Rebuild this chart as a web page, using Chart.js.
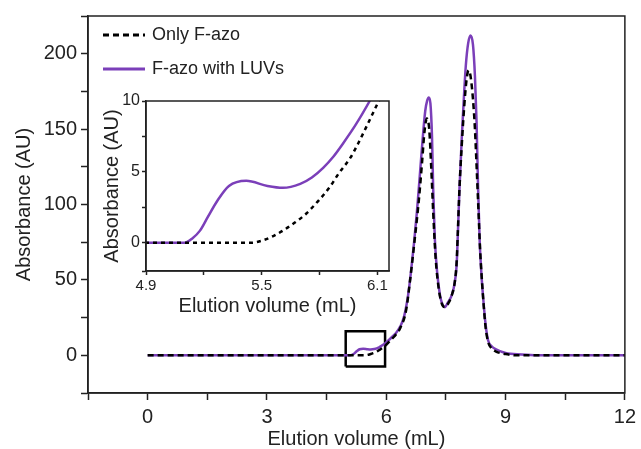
<!DOCTYPE html>
<html>
<head>
<meta charset="utf-8">
<script src="https://cdn.jsdelivr.net/npm/chart.js@4/dist/chart.umd.min.js"></script>
<style>
  body { margin: 0; background: #fff; }
  #wrap { position: relative; width: 641px; height: 449px; }
  #MainCanvas { position: absolute; left: 0; top: 0; }
  #InsetCanvas { position: absolute; left: 100px; top: 80px; }
</style>
</head>
<body>
<div id="wrap">
  <canvas id="MainCanvas" width="641" height="449"></canvas>
  <canvas id="InsetCanvas" width="300" height="240"></canvas>
</div>
<script>
// data
var blackX = [0, 5.45, 5.49, 5.55, 5.61, 5.67, 5.73, 5.79, 5.85, 5.9, 5.96, 6.0, 6.04, 6.1, 6.2, 6.35, 6.5, 6.6, 6.72, 6.82, 6.9, 6.96, 7.02, 7.08, 7.13, 7.18, 7.24, 7.32, 7.4, 7.47, 7.55, 7.65, 7.72, 7.77, 7.8, 7.84, 7.9, 7.96, 8.02, 8.07, 8.12, 8.18, 8.23, 8.28, 8.32, 8.36, 8.4, 8.45, 8.5, 8.56, 8.65, 8.76, 9.0, 9.3, 12];
var blackY = [0, 0, 0.1, 0.4, 0.85, 1.4, 2.04, 2.9, 3.87, 4.9, 6, 7, 8.1, 9.8, 12.5, 18, 30, 50, 78, 103, 128, 148, 157, 150, 125, 95, 65, 44, 34, 32, 34, 40, 48, 62, 82, 110, 140, 165, 183, 189, 185, 170, 150, 120, 95, 70, 52, 33, 18, 9, 4.5, 2.5, 0.8, 0, 0];

var purpleX = [0, 5.1, 5.14, 5.18, 5.22, 5.27, 5.33, 5.42, 5.53, 5.61, 5.7, 5.76, 5.82, 5.87, 5.92, 5.99, 6.06, 6.15, 6.25, 6.35, 6.45, 6.55, 6.62, 6.7, 6.77, 6.84, 6.92, 6.98, 7.03, 7.07, 7.11, 7.15, 7.18, 7.22, 7.28, 7.35, 7.41, 7.47, 7.55, 7.65, 7.72, 7.77, 7.8, 7.84, 7.9, 7.95, 8.0, 8.06, 8.12, 8.18, 8.23, 8.27, 8.31, 8.35, 8.39, 8.44, 8.5, 8.56, 8.65, 8.76, 9.0, 9.4, 9.8, 12];
var purpleY = [0, 0, 0.3, 0.85, 1.8, 2.96, 4.0, 4.37, 4.0, 3.87, 4.15, 4.6, 5.3, 6.05, 6.97, 8.38, 10, 12.3, 15, 19, 26, 40, 55, 75, 95, 118, 145, 162, 169, 171, 167, 145, 110, 78, 55, 40, 34, 32, 35, 40, 48, 60, 80, 110, 145, 170, 192, 207, 212, 206, 185, 155, 110, 75, 55, 37, 20, 10, 6, 4, 1.5, 0.5, 0, 0];

// zoom box round the region shown in the inset
var boxX = [4.98, 5.97, 5.97, 4.98, 4.98];
var boxY = [-7.5, -7.5, 16, 16, -7.5];

var mainXTicks = [-1.5, 0, 1.5, 3, 4.5, 6, 7.5, 9, 10.5, 12];
var mainXLabels = [0, 3, 6, 9, 12];
var mainYTicks = [-25, 0, 25, 50, 75, 100, 125, 150, 175, 200, 225];
var mainYLabels = [0, 50, 100, 150, 200];

var insetXTicks = [4.9, 5.2, 5.5, 5.8, 6.1];
var insetXLabels = [4.9, 5.5, 6.1];
var insetYTicks = [-2, 0, 2.5, 5, 7.5, 10];
var insetYLabels = [0, 5, 10];

var seriesNames = ['Only F-azo', 'F-azo with LUVs'];

var PURPLE = '#7b3fb9';
var FONT = "'Liberation Sans', Arial, sans-serif";

function pts(xs, ys) {
    return xs.map(function (x, i) { return { x: x, y: ys[i] }; });
}

function fixTicks(list) {
    return function (scale) {
        scale.ticks = list.map(function (v) { return { value: v }; });
    };
}

var framePlugin = {
    id: 'frame',
    afterDraw: function (chart, args, opts) {
        var a = chart.chartArea, ctx = chart.ctx;
        ctx.save();
        ctx.strokeStyle = '#222';
        ctx.lineWidth = opts.width || 1.5;
        ctx.strokeRect(a.left, a.top, a.right - a.left, a.bottom - a.top);
        ctx.restore();
    }
};

var legendPlugin = {
    id: 'sideLegend',
    afterDraw: function (chart) {
        var ctx = chart.ctx;
        var rows = [35, 69];
        ctx.save();
        ctx.font = '18px ' + FONT;
        ctx.textBaseline = 'middle';
        for (var i = 0; i < 2; i++) {
            var ds = chart.data.datasets[i];
            ctx.strokeStyle = ds.borderColor;
            ctx.lineWidth = 3;
            ctx.setLineDash(ds.borderDash || []);
            ctx.beginPath();
            ctx.moveTo(103, rows[i]);
            ctx.lineTo(145, rows[i]);
            ctx.stroke();
            ctx.setLineDash([]);
            ctx.fillStyle = '#222';
            ctx.fillText(ds.label, 152, rows[i]);
        }
        ctx.restore();
    }
};

function axis(opts) {
    return {
        type: 'linear',
        min: opts.min,
        max: opts.max,
        afterBuildTicks: fixTicks(opts.ticks),
        afterFit: opts.fit,
        border: { color: '#222', width: 1.5 },
        grid: { drawOnChartArea: false, drawTicks: true, tickLength: opts.tickLength, tickColor: '#222', tickWidth: 1.5 },
        ticks: {
            color: '#222',
            padding: opts.padding,
            autoSkip: false,
            maxRotation: 0,
            font: { family: FONT, size: opts.tickSize },
            callback: function (v) {
                return opts.labels.indexOf(v) >= 0 ? opts.fmt(v) : '';
            }
        },
        title: {
            display: true,
            text: opts.title,
            color: '#222',
            font: { family: FONT, size: 20, lineHeight: opts.titleLH || 1.2 },
            padding: opts.titlePad
        }
    };
}

window.onload = function () {
    var mainCtx = document.getElementById('MainCanvas').getContext('2d');

    window.MainChart = new Chart(mainCtx, {
        type: 'line',
        data: {
            datasets: [{
                label: seriesNames[0],
                data: pts(blackX, blackY),
                borderColor: '#000',
                borderWidth: 2.5,
                borderDash: [6, 4],
                pointRadius: 0,
                cubicInterpolationMode: 'monotone'
            }, {
                label: seriesNames[1],
                data: pts(purpleX, purpleY),
                borderColor: PURPLE,
                borderWidth: 2.5,
                pointRadius: 0,
                cubicInterpolationMode: 'monotone'
            }, {
                label: 'box',
                data: pts(boxX, boxY),
                borderColor: '#000',
                borderWidth: 2.5,
                pointRadius: 0,
                tension: 0
            }]
        },
        options: {
            responsive: false,
            animation: false,
            devicePixelRatio: 1,
            layout: { padding: { top: 15, right: 11, left: 0, bottom: 0 } },
            plugins: { legend: { display: false }, tooltip: { enabled: false }, frame: { width: 1.5 } },
            scales: {
                x: axis({
                    min: -1.5, max: 12, ticks: mainXTicks, labels: mainXLabels,
                    fmt: String, tickLength: 7, padding: 5, tickSize: 20,
                    title: 'Elution volume (mL)', titlePad: { top: 0, bottom: 0 }, titleLH: 1.0,
                    fit: function (s) { s.height = 56; }
                }),
                y: axis({
                    min: -25, max: 225, ticks: mainYTicks, labels: mainYLabels,
                    fmt: String, tickLength: 7, padding: 4, tickSize: 20,
                    title: 'Absorbance (AU)', titlePad: { top: 12, bottom: 0 },
                    fit: function (s) { s.width = 88; }
                })
            }
        },
        plugins: [framePlugin, legendPlugin]
    });

    var insetCtx = document.getElementById('InsetCanvas').getContext('2d');

    window.InsetChart = new Chart(insetCtx, {
        type: 'line',
        data: {
            datasets: [{
                label: seriesNames[0],
                data: pts(blackX, blackY),
                borderColor: '#000',
                borderWidth: 2.5,
                borderDash: [4, 4],
                pointRadius: 0,
                cubicInterpolationMode: 'monotone'
            }, {
                label: seriesNames[1],
                data: pts(purpleX, purpleY),
                borderColor: PURPLE,
                borderWidth: 2.5,
                pointRadius: 0,
                cubicInterpolationMode: 'monotone'
            }]
        },
        options: {
            responsive: false,
            animation: false,
            devicePixelRatio: 1,
            layout: { padding: { top: 21, right: 11, left: 0, bottom: 0 } },
            plugins: { legend: { display: false }, tooltip: { enabled: false }, frame: { width: 1.5 } },
            scales: {
                x: axis({
                    min: 4.9, max: 6.16, ticks: insetXTicks, labels: insetXLabels,
                    fmt: function (v) { return v.toFixed(1); }, tickLength: 4, padding: 2, tickSize: 15,
                    title: 'Elution volume (mL)', titlePad: { top: 0, bottom: 2 },
                    fit: function (s) { s.height = 49; }
                }),
                y: axis({
                    min: -2, max: 10, ticks: insetYTicks, labels: insetYLabels,
                    fmt: String, tickLength: 4, padding: 2, tickSize: 16,
                    title: 'Absorbance (AU)', titlePad: { top: 0, bottom: 0 },
                    fit: function (s) { s.width = 46; }
                })
            }
        },
        plugins: [framePlugin]
    });
};
</script>
</body>
</html>
